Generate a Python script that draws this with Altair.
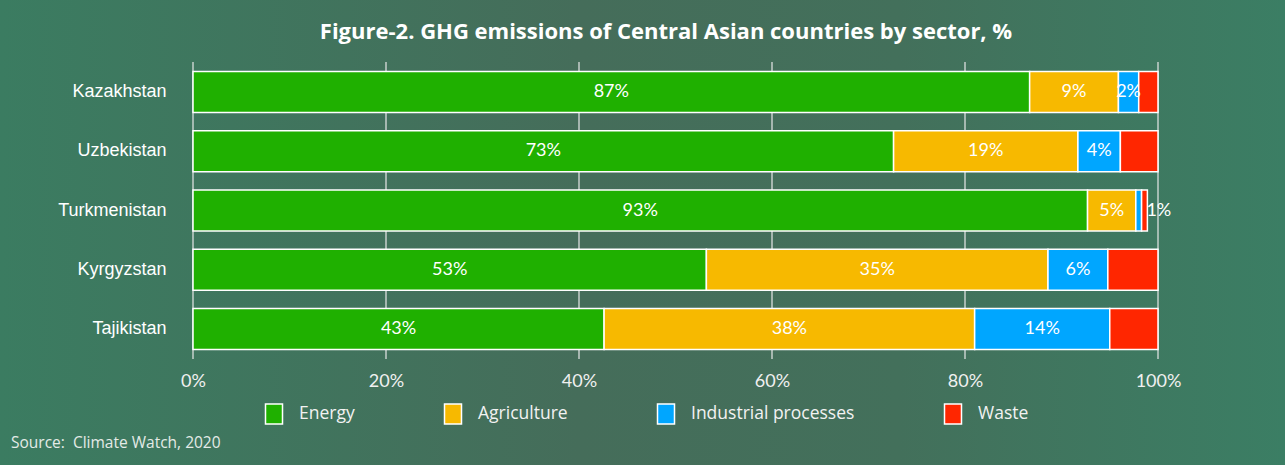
import altair as alt
import pandas as pd

# Share of GHG emissions by sector, %
countries = ["Kazakhstan", "Uzbekistan", "Turkmenistan", "Kyrgyzstan", "Tajikistan"]
sectors = ["Energy", "Agriculture", "Industrial processes", "Waste"]
energy = [86.7, 72.6, 92.7, 53.2, 42.6]
agriculture = [9.2, 19.1, 5.0, 35.4, 38.4]
industrial = [2.1, 4.4, 0.6, 6.2, 14.0]
waste = [2.0, 3.9, 0.6, 5.2, 5.0]
sector_colors = ["#1fb000", "#f7b900", "#00a6ff", "#ff2600"]
x_ticks = [0, 20, 40, 60, 80, 100]

TITLE = "Figure-2. GHG emissions of Central Asian countries by sector, %"
SOURCE = "Source:\u00a0 Climate Watch, 2020"

rows = []
for s_idx, (sector, values) in enumerate(zip(sectors, [energy, agriculture, industrial, waste])):
    for country, v in zip(countries, values):
        rows.append({"country": country, "sector": sector, "share": v, "order": s_idx})
df = pd.DataFrame(rows)

W, H = 965, 297
PAD_L, PAD_T = 193, 62
TOTAL_W, TOTAL_H = 1285, 465

y_enc = alt.Y(
    "country:N",
    sort=countries,
    scale=alt.Scale(paddingInner=0.31, paddingOuter=0.16),
    axis=alt.Axis(
        title=None, domain=False, ticks=False, labelPadding=27, zindex=1,
        labelFont="Liberation Sans", labelFontSize=18, labelColor="#ffffff",
    ),
)

# Photo-like backdrop behind the whole figure
bg = alt.Chart(pd.DataFrame({"bg": [0]})).mark_rect(
    color=alt.Gradient(
        gradient="linear", x1=0, x2=1, y1=0, y2=0,
        stops=[
            alt.GradientStop(color="#3b7c61", offset=0),
            alt.GradientStop(color="#456d5a", offset=0.45),
            alt.GradientStop(color="#43705b", offset=0.7),
            alt.GradientStop(color="#3b7e64", offset=1),
        ],
    )
).encode(
    x=alt.value(-PAD_L), x2=alt.value(TOTAL_W - PAD_L),
    y=alt.value(-PAD_T), y2=alt.value(TOTAL_H - PAD_T),
)

# Vertical grid lines, drawn behind the bars
grid = alt.Chart(pd.DataFrame({"tick": x_ticks})).mark_rule(
    color="#e8e8e8", opacity=0.8, strokeWidth=1.5
).encode(
    x=alt.X("tick:Q"), y=alt.value(0), y2=alt.value(H)
)

bars = alt.Chart(df).mark_bar(stroke="white", strokeWidth=1.5).encode(
    y=y_enc,
    x=alt.X(
        "share:Q", stack="zero",
        scale=alt.Scale(domain=[0, 100], nice=False),
        axis=alt.Axis(
            title=None, values=x_ticks, labelExpr="datum.value + '%'",
            domain=False, ticks=False, grid=False, zindex=1, labelFlush=False,
            labelPadding=13, labelFont="Lato", labelFontSize=18,
            labelColor="#f0f0f0",
        ),
    ),
    color=alt.Color(
        "sector:N",
        scale=alt.Scale(domain=sectors, range=sector_colors),
        legend=alt.Legend(
            title=None, orient="none", legendX=70, legendY=341, direction="horizontal",
            symbolType="M-0.85,-1H0.85V1H-0.85Z", symbolSize=400,
            symbolStrokeColor="white", symbolStrokeWidth=1.5, symbolOpacity=1,
            labelFont="Open Sans", labelFontSize=17.5, labelColor="#f2f2f2",
            labelLimit=400, labelOffset=14, columnPadding=86, padding=0, zindex=1,
        ),
    ),
    order=alt.Order("order:Q"),
)

stacked = alt.Chart(df).transform_stack(
    stack="share", groupby=["country"], as_=["x0", "x1"],
    sort=[alt.SortField("order", order="ascending")],
).transform_calculate(
    mid="(datum.x0 + datum.x1) / 2",
    label="format(datum.share, '.0f') + '%'",
)

labels = stacked.transform_filter(
    "datum.sector != 'Waste' && !(datum.country == 'Turkmenistan' && datum.sector == 'Industrial processes')"
).mark_text(font="Lato", fontSize=18, color="white").encode(
    y=alt.Y("country:N", sort=countries),
    x=alt.X("mid:Q"),
    text="label:N",
)

# Thin segments: label placed just past the end of the bar
outside = stacked.transform_joinaggregate(
    total="sum(share)", groupby=["country"]
).transform_filter(
    "datum.country == 'Turkmenistan' && datum.sector == 'Industrial processes'"
).mark_text(font="Lato", fontSize=18, color="white", align="left", dx=-1).encode(
    y=alt.Y("country:N", sort=countries),
    x=alt.X("total:Q"),
    text="label:N",
)

heading = alt.Chart(pd.DataFrame({"t": [TITLE]})).mark_text(
    align="center", baseline="alphabetic", font="Open Sans", fontSize=22,
    fontWeight="bold", color="white"
).encode(
    x=alt.value(666 - PAD_L), y=alt.value(39 - PAD_T), text="t:N"
)

source = alt.Chart(pd.DataFrame({"note": [SOURCE]})).mark_text(
    align="left", baseline="alphabetic", font="Open Sans", fontSize=15.5, color="#e4ebe7"
).encode(
    x=alt.value(11 - PAD_L), y=alt.value(448 - PAD_T), text="note:N"
)

chart = alt.layer(bg, grid, bars, labels, outside, heading, source).properties(
    width=W, height=H,
    autosize=alt.AutoSizeParams(type="none"),
    padding={"left": PAD_L, "top": PAD_T, "right": TOTAL_W - PAD_L - W, "bottom": TOTAL_H - PAD_T - H},
).configure_view(stroke=None).configure(background="#41725c")

chart.save("out.html", embed_options={"renderer": "svg", "actions": False})
